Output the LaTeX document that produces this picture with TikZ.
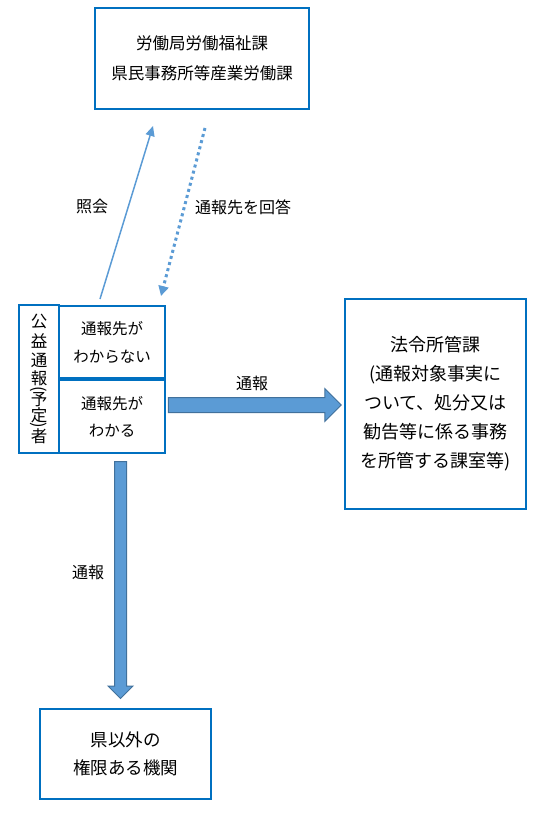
\documentclass[tikz,border=0pt]{standalone}
\usepackage{fontspec}
\setmainfont{Noto Sans CJK JP}
\usetikzlibrary{arrows.meta,positioning,shapes.arrows}
\definecolor{waku}{HTML}{0070C0}
\definecolor{yaji}{HTML}{5B9BD5}
\definecolor{yajiwaku}{HTML}{41719C}

\begin{document}
\begin{tikzpicture}[x=1pt,y=-1pt,>={Triangle[length=10pt,width=9pt]},
    box/.style={draw=waku,line width=2pt,align=center,inner sep=0pt},
    lbl/.style={inner sep=0pt,font=\fontsize{16}{16}\selectfont},
    tate/.style={inner sep=0pt,font=\fontsize{16.5}{16.5}\selectfont},
    fat/.style={single arrow,draw=yajiwaku,fill=yaji,line width=1pt,single arrow head indent=0pt}]
  \useasboundingbox (0,0) rectangle (541,813);
  % boxes
  \node[box,minimum width=214pt,minimum height=101pt,font=\fontsize{16.5}{30.5}\selectfont] (kyoku) at (202,58.5)
    {労働局労働福祉課\\県民事務所等産業労働課};
  \node[box,minimum width=40pt,minimum height=148pt] (tsuhosha) at (39,379) {};
  \node[box,minimum width=106pt,minimum height=72pt,font=\fontsize{15.5}{28}\selectfont] (fumei) at (112,342)
    {通報先が\\わからない};
  \node[box,minimum width=106pt,minimum height=73pt,font=\fontsize{15.5}{27}\selectfont] (wakaru) at (112,416.5)
    {通報先が\\わかる};
  \node[box,minimum width=181pt,minimum height=210pt,font=\fontsize{18}{29}\selectfont] (hourei) at (435.5,404)
    {法令所管課\\(通報対象事実に\\ついて、処分又は\\勧告等に係る事務\\を所管する課室等)};
  \node[box,minimum width=171pt,minimum height=90pt,font=\fontsize{17.5}{28}\selectfont] (kengai) at (125.5,754)
    {県以外の\\権限ある機関};
  % vertical text
  \foreach \c/\y [count=\i] in {公/322,益/341,通/360,報/378,予/400,定/415,者/436}
    \node[tate] (v\i) at (39,\y) {\c};
  \node[tate,rotate=-90] (kakko1) at (39,389) {(};
  \node[tate,rotate=-90] (kakko2) at (39,425) {)};
  % inquiry and answer
  \coordinate (askfrom) at ([shift={(-12,-6)}]fumei.north);
  \coordinate (askto) at ([shift={(-49,16)}]kyoku.south);
  \coordinate (ansfrom) at ([shift={(3,18)}]kyoku.south);
  \coordinate (ansto) at ([shift={(49,-9)}]fumei.north);
  \draw[->,yaji,line width=1.5pt] (askfrom) -- (askto);
  \draw[-{Triangle[length=10pt,width=10pt]},yaji,line width=3pt,dash pattern=on 3pt off 3.3pt] (ansfrom) -- (ansto);
  \node[lbl] (shokai) at (92,206) {照会};
  \node[lbl] (kaito) at (243,207) {通報先を回答};
  % reports
  \coordinate (r1) at (164.5,405);
  \coordinate (r2) at (337.5,405);
  \coordinate (d1) at (120.5,458.5);
  \coordinate (d2) at (120.5,695.5);
  \path (r1) -- node[fat,inner sep=7pt,single arrow head extend=9pt,minimum height=173pt] (tsuho1) {} (r2);
  \path (d1) -- node[fat,sloped,allow upside down,inner sep=5.5pt,single arrow head extend=6.5pt,minimum height=237pt] (tsuho2) {} (d2);
  \node[lbl] (lb1) at (252,383) {通報};
  \node[lbl] (lb2) at (88,572) {通報};
\end{tikzpicture}
\end{document}
